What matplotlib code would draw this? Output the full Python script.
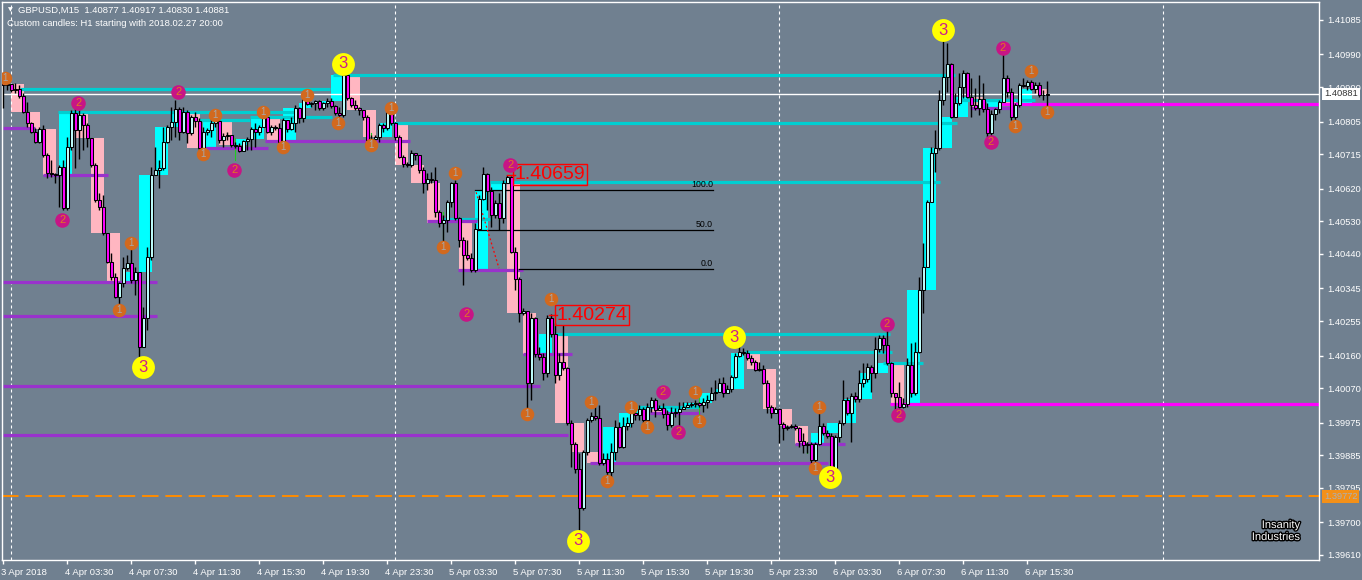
import matplotlib
matplotlib.use('Agg')
import matplotlib.pyplot as plt
import matplotlib.patheffects as pe
import matplotlib.transforms as mtransforms
from matplotlib.patches import Rectangle
import numpy as np

plt.rcParams['font.family'] = ['Liberation Sans', 'DejaVu Sans']

# ---------------- data (GBPUSD M15) ----------------
open0 = 1.40914
close = [1.40906, 1.40909, 1.40892, 1.40895, 1.40875, 1.40831, 1.40801, 1.40776, 1.40749, 1.40784,
         1.40713, 1.40663, 1.40660, 1.40658, 1.40680, 1.40567, 1.40735, 1.40829, 1.40782, 1.40823,
         1.40796, 1.40760, 1.40685, 1.40589, 1.40569, 1.40498, 1.40418, 1.40376, 1.40321, 1.40360,
         1.40401, 1.40415, 1.40368, 1.40390, 1.40183, 1.40263, 1.40432, 1.40658, 1.40671, 1.40677,
         1.40749, 1.40790, 1.40804, 1.40840, 1.40776, 1.40831, 1.40774, 1.40818, 1.40807, 1.40732,
         1.40776, 1.40782, 1.40801, 1.40807, 1.40754, 1.40765, 1.40768, 1.40741, 1.40738, 1.40724,
         1.40751, 1.40757, 1.40784, 1.40776, 1.40790, 1.40818, 1.40776, 1.40790, 1.40787, 1.40749,
         1.40809, 1.40784, 1.40801, 1.40842, 1.40815, 1.40867, 1.40853, 1.40856, 1.40862, 1.40842,
         1.40856, 1.40862, 1.40848, 1.40829, 1.40823, 1.40933, 1.40870, 1.40851, 1.40842, 1.40837,
         1.40818, 1.40754, 1.40757, 1.40762, 1.40796, 1.40787, 1.40831, 1.40801, 1.40762, 1.40707,
         1.40688, 1.40685, 1.40718, 1.40713, 1.40671, 1.40636, 1.40647, 1.40644, 1.40556, 1.40525,
         1.40534, 1.40583, 1.40636, 1.40539, 1.40478, 1.40437, 1.40429, 1.40396, 1.40509, 1.40591,
         1.40660, 1.40614, 1.40547, 1.40580, 1.40539, 1.40636, 1.40652, 1.40445, 1.40371, 1.40277,
         1.40283, 1.40084, 1.40263, 1.40164, 1.40156, 1.40112, 1.40263, 1.40219, 1.40106, 1.40142,
         1.40125, 1.39974, 1.39916, 1.39847, 1.39740, 1.39894, 1.39982, 1.39993, 1.39988, 1.39864,
         1.39875, 1.39839, 1.39894, 1.39963, 1.39908, 1.39966, 1.39974, 1.40002, 1.39996, 1.40012,
         1.39982, 1.40018, 1.40037, 1.40010, 1.40015, 1.39999, 1.39968, 1.40002, 1.40004, 1.40012,
         1.40018, 1.40024, 1.40026, 1.40029, 1.40024, 1.40032, 1.40037, 1.40057, 1.40059, 1.40084,
         1.40057, 1.40068, 1.40100, 1.40158, 1.40170, 1.40167, 1.40153, 1.40142, 1.40120, 1.40123,
         1.40084, 1.40018, 1.40002, 1.40012, 1.39971, 1.39960, 1.39963, 1.39966, 1.39960, 1.39924,
         1.39913, 1.39916, 1.39872, 1.39916, 1.39966, 1.39946, 1.39938, 1.39839, 1.39935, 1.39974,
         1.40037, 1.40002, 1.40048, 1.40040, 1.40084, 1.40095, 1.40128, 1.40112, 1.40178, 1.40208,
         1.40189, 1.40139, 1.40057, 1.40046, 1.40018, 1.40026, 1.40134, 1.40057, 1.40170, 1.40341,
         1.40404, 1.40583, 1.40718, 1.40732, 1.40864, 1.40928, 1.40964, 1.40818, 1.40856, 1.40900,
         1.40939, 1.40873, 1.40851, 1.40842, 1.40867, 1.40840, 1.40774, 1.40826, 1.40840, 1.40859,
         1.40925, 1.40887, 1.40818, 1.40851, 1.40906, 1.40903, 1.40914, 1.40895, 1.40906, 1.40878,
         1.40877, 1.40881]
high = [1.40925, 1.40914, 1.40909, 1.40911, 1.40906, 1.40884, 1.40859, 1.40804, 1.40787, 1.40790,
        1.40796, 1.40718, 1.40699, 1.40663, 1.40685, 1.40699, 1.40762, 1.40837, 1.40845, 1.40837,
        1.40829, 1.40801, 1.40760, 1.40691, 1.40608, 1.40603, 1.40498, 1.40443, 1.40387, 1.40363,
        1.40432, 1.40437, 1.40459, 1.40404, 1.40390, 1.40294, 1.40459, 1.40680, 1.40735, 1.40699,
        1.40790, 1.40796, 1.40845, 1.40864, 1.40845, 1.40845, 1.40837, 1.40823, 1.40831, 1.40815,
        1.40790, 1.40787, 1.40815, 1.40818, 1.40809, 1.40774, 1.40776, 1.40768, 1.40749, 1.40746,
        1.40754, 1.40762, 1.40790, 1.40801, 1.40796, 1.40823, 1.40815, 1.40796, 1.40796, 1.40801,
        1.40815, 1.40804, 1.40818, 1.40851, 1.40845, 1.40878, 1.40873, 1.40859, 1.40864, 1.40864,
        1.40859, 1.40870, 1.40870, 1.40851, 1.40845, 1.40961, 1.40942, 1.40873, 1.40864, 1.40845,
        1.40837, 1.40823, 1.40768, 1.40768, 1.40801, 1.40801, 1.40845, 1.40845, 1.40804, 1.40768,
        1.40713, 1.40694, 1.40727, 1.40718, 1.40707, 1.40680, 1.40663, 1.40666, 1.40680, 1.40561,
        1.40547, 1.40589, 1.40638, 1.40644, 1.40542, 1.40487, 1.40478, 1.40443, 1.40525, 1.40603,
        1.40680, 1.40663, 1.40625, 1.40589, 1.40608, 1.40644, 1.40659, 1.40655, 1.40459, 1.40376,
        1.40291, 1.40280, 1.40277, 1.40266, 1.40183, 1.40167, 1.40272, 1.40274, 1.40249, 1.40167,
        1.40244, 1.40128, 1.39982, 1.39921, 1.39891, 1.39900, 1.39988, 1.40004, 1.40018, 1.40024,
        1.39891, 1.39891, 1.39919, 1.39982, 1.39977, 1.39991, 1.39991, 1.40015, 1.40010, 1.40024,
        1.40018, 1.40029, 1.40046, 1.40043, 1.40024, 1.40029, 1.40010, 1.40018, 1.40015, 1.40032,
        1.40032, 1.40032, 1.40032, 1.40037, 1.40032, 1.40043, 1.40051, 1.40073, 1.40092, 1.40098,
        1.40100, 1.40079, 1.40106, 1.40167, 1.40194, 1.40181, 1.40175, 1.40161, 1.40148, 1.40142,
        1.40134, 1.40092, 1.40024, 1.40018, 1.40015, 1.39977, 1.39968, 1.39971, 1.39971, 1.39963,
        1.39946, 1.39921, 1.39921, 1.39921, 1.40015, 1.39974, 1.39955, 1.39946, 1.39941, 1.39982,
        1.40092, 1.40046, 1.40057, 1.40059, 1.40120, 1.40139, 1.40139, 1.40134, 1.40211, 1.40216,
        1.40216, 1.40249, 1.40142, 1.40057, 1.40087, 1.40043, 1.40153, 1.40194, 1.40197, 1.40376,
        1.40470, 1.40589, 1.40735, 1.40782, 1.40892, 1.41063, 1.41022, 1.40966, 1.40884, 1.40939,
        1.40947, 1.40942, 1.40925, 1.40898, 1.40933, 1.40911, 1.40856, 1.40837, 1.40842, 1.40864,
        1.41022, 1.40933, 1.40898, 1.40856, 1.40911, 1.40925, 1.40920, 1.40920, 1.40914, 1.40914,
        1.40892, 1.40917]
low = [1.40842, 1.40892, 1.40887, 1.40884, 1.40870, 1.40829, 1.40790, 1.40774, 1.40746, 1.40746,
       1.40707, 1.40649, 1.40652, 1.40636, 1.40569, 1.40561, 1.40561, 1.40727, 1.40677, 1.40702,
       1.40727, 1.40735, 1.40680, 1.40583, 1.40561, 1.40492, 1.40415, 1.40368, 1.40318, 1.40280,
       1.40349, 1.40396, 1.40360, 1.40327, 1.40139, 1.40183, 1.40230, 1.40423, 1.40658, 1.40622,
       1.40671, 1.40746, 1.40754, 1.40762, 1.40754, 1.40774, 1.40746, 1.40768, 1.40790, 1.40718,
       1.40718, 1.40768, 1.40762, 1.40790, 1.40746, 1.40735, 1.40754, 1.40735, 1.40732, 1.40721,
       1.40732, 1.40727, 1.40727, 1.40735, 1.40768, 1.40790, 1.40774, 1.40768, 1.40782, 1.40746,
       1.40735, 1.40776, 1.40782, 1.40776, 1.40801, 1.40804, 1.40851, 1.40845, 1.40837, 1.40837,
       1.40837, 1.40845, 1.40842, 1.40823, 1.40804, 1.40818, 1.40864, 1.40845, 1.40837, 1.40823,
       1.40809, 1.40746, 1.40741, 1.40754, 1.40749, 1.40776, 1.40782, 1.40796, 1.40754, 1.40705,
       1.40680, 1.40680, 1.40680, 1.40699, 1.40663, 1.40608, 1.40616, 1.40636, 1.40542, 1.40514,
       1.40465, 1.40501, 1.40569, 1.40534, 1.40459, 1.40354, 1.40423, 1.40390, 1.40390, 1.40506,
       1.40589, 1.40561, 1.40514, 1.40539, 1.40506, 1.40525, 1.40636, 1.40443, 1.40341, 1.40252,
       1.40272, 1.40002, 1.40037, 1.40156, 1.40148, 1.40092, 1.40100, 1.40211, 1.40084, 1.40092,
       1.40120, 1.39968, 1.39852, 1.39836, 1.39638, 1.39734, 1.39886, 1.39977, 1.39982, 1.39858,
       1.39858, 1.39825, 1.39825, 1.39872, 1.39905, 1.39905, 1.39955, 1.39963, 1.39982, 1.39982,
       1.39974, 1.39982, 1.40004, 1.39991, 1.40010, 1.39988, 1.39955, 1.39963, 1.39991, 1.39941,
       1.40012, 1.40018, 1.40018, 1.40018, 1.40018, 1.40004, 1.40015, 1.40037, 1.40037, 1.40059,
       1.40046, 1.40057, 1.40059, 1.40098, 1.40156, 1.40161, 1.40148, 1.40134, 1.40117, 1.40117,
       1.40081, 1.40002, 1.39988, 1.40002, 1.39919, 1.39927, 1.39955, 1.39960, 1.39955, 1.39908,
       1.39891, 1.39891, 1.39864, 1.39850, 1.39913, 1.39941, 1.39933, 1.39830, 1.39825, 1.39921,
       1.39968, 1.39996, 1.39921, 1.40032, 1.40032, 1.40073, 1.40087, 1.40059, 1.40098, 1.40170,
       1.40167, 1.40134, 1.40046, 1.40002, 1.39996, 1.40015, 1.40018, 1.40046, 1.40051, 1.40167,
       1.40277, 1.40404, 1.40583, 1.40666, 1.40727, 1.40851, 1.40887, 1.40815, 1.40818, 1.40851,
       1.40870, 1.40870, 1.40818, 1.40837, 1.40823, 1.40831, 1.40762, 1.40746, 1.40809, 1.40829,
       1.40859, 1.40873, 1.40809, 1.40790, 1.40845, 1.40900, 1.40892, 1.40892, 1.40884, 1.40873,
       1.40864, 1.40830]

xtick_bars = [0, 16, 32, 48, 64, 80, 96, 112, 128, 144, 160, 176, 192, 208, 224, 240, 256]
xtick_labels = ['3 Apr 2018', '4 Apr 03:30', '4 Apr 07:30', '4 Apr 11:30', '4 Apr 15:30',
                '4 Apr 19:30', '4 Apr 23:30', '5 Apr 03:30', '5 Apr 07:30', '5 Apr 11:30',
                '5 Apr 15:30', '5 Apr 19:30', '5 Apr 23:30', '6 Apr 03:30', '6 Apr 07:30',
                '6 Apr 11:30', '6 Apr 15:30']
day_sep_bars = [2, 98, 194, 290]
ytick_prices = [1.41085, 1.40990, 1.40900, 1.40805, 1.40715, 1.40620, 1.40530, 1.40440, 1.40345,
                1.40255, 1.40160, 1.40070, 1.39975, 1.39885, 1.39795, 1.39700, 1.39610]

bid_price = 1.40881
alert_price = 1.39772

# zigzag-count markers: bar index, price
m1_bar = [0.4, 31.9, 28.9, 49.9, 52.9, 64.9, 69.9, 75.9, 83.7, 91.9, 96.9, 112.9, 109.9, 136.9,
          130.9, 146.9, 150.9, 156.9, 160.9, 172.9, 173.9, 203.9, 202.9, 256.9, 252.9, 260.9]
m1_price = [1.40925, 1.40470, 1.40286, 1.40716, 1.40823, 1.40831, 1.40735, 1.40878, 1.40801,
            1.40740, 1.40842, 1.40663, 1.40459, 1.40316, 1.39999, 1.40032, 1.39814, 1.40018,
            1.39963, 1.40059, 1.39979, 1.40018, 1.39850, 1.40944, 1.40793, 1.40831]
m2_bar = [14.7, 18.7, 43.7, 57.7, 115.7, 126.7, 164.9, 168.7, 220.9, 223.7, 246.9, 249.9]
m2_price = [1.40534, 1.40856, 1.40887, 1.40671, 1.40275, 1.40685, 1.40059, 1.39949, 1.40247,
            1.39996, 1.40749, 1.41008]
m3_bar = [34.9, 84.9, 143.7, 182.7, 206.7, 234.9]
m3_price = [1.40128, 1.40964, 1.39649, 1.40211, 1.39825, 1.41057]

# horizontal level segments: start bar, end bar, price
cyan_start = [4.2, 13.7, 82.4, 95.4, 121.7, 138.0, 185.4, 220.0, 238.5, 49.0, 61.7, 110.0, 157.4]
cyan_end = [81.7, 72.9, 237.9, 238.4, 234.2, 221.7, 222.2, 230.0, 258.0, 61.7, 82.2, 121.7, 174.0]
cyan_price = [1.40895, 1.40831, 1.40933, 1.40801, 1.40638, 1.40219, 1.40170, 1.40139, 1.40864,
              1.40809, 1.40818, 1.40536, 1.40018]
purple_start = [0, 10, 0, 0, 0, 0, 146.7, 49.2, 65.4, 106, 113.7, 130, 161.7, 197.9, 241.7]
purple_end = [8, 26.2, 38.4, 38.4, 134.2, 141.2, 206.2, 66.2, 101.7, 118.4, 130, 142.2, 174.2,
              210.4, 253.7]
purple_price = [1.40787, 1.40658, 1.40363, 1.40269, 1.40076, 1.39941, 1.39864, 1.40732, 1.40751,
                1.40531, 1.40396, 1.40164, 1.40002, 1.39916, 1.40842]
magenta_start = [249.2, 221.7]
magenta_price = [1.40853, 1.40026]

# fibonacci
fib_prices = [1.40616, 1.40507, 1.40398]
fib_names = ['100.0', '50.0', '0.0']
fib_start = [117.9, 117.9, 128.9]
fib_end = 177.4
fib_trend_bar = [118.2, 123.9]
fib_trend_price = [1.40610, 1.40401]

# swing labels
swing_text = ['1.40659', '1.40274']
swing_bar = [127.8, 138.3]
swing_price = [1.40659, 1.40271]

# small green indicator ticks: bar, low, high
green_bar = [57.9, 109.9, 91.9, 173.9, 200.9]
green_lo = [1.40699, 1.40459, 1.40740, 1.39976, 1.39891]
green_hi = [1.40760, 1.40556, 1.40773, 1.40059, 1.39921]

# ---------------- drawing ----------------
BG = '#708090'
W, Hpx = 1362, 580
fig = plt.figure(figsize=(W / 100, Hpx / 100), dpi=100, facecolor=BG)
ax = fig.add_axes([2 / W, 20 / Hpx, 1317 / W, 558 / Hpx])
ax.set_facecolor(BG)
XMAX = 328.9
ax.set_xlim(-0.325, XMAX)
ax.set_ylim(1.395962, 1.411346)

C = np.array(close)
O = np.array([open0] + close[:-1])
Hh = np.maximum(np.array(high), np.maximum(O, C))
Ll = np.minimum(np.array(low), np.minimum(O, C))
n = len(C)
x = np.arange(n)

# custom H1 candles (4 x M15)
starts = [0] + list(range(2, n, 4))
for s in starts:
    e = 1 if s == 0 else min(s + 3, n - 1)
    o, c = O[s], C[e]
    col = '#00FFFF' if c >= o else '#FFB6C1'
    ax.add_patch(Rectangle((s - 0.1, min(o, c)), (e - s) + 0.2, max(abs(c - o), 0.00002),
                           facecolor=col, edgecolor='none', zorder=1))

# level lines
for s, e, p in zip(cyan_start, cyan_end, cyan_price):
    ax.plot([s, e], [p, p], color='#00CED1', lw=2.3, solid_capstyle='butt', zorder=2)
for s, e, p in zip(purple_start, purple_end, purple_price):
    ax.plot([s, e], [p, p], color='#9932CC', lw=2.3, solid_capstyle='butt', zorder=2)
for s, p in zip(magenta_start, magenta_price):
    ax.plot([s, XMAX], [p, p], color='#FF00FF', lw=2.3, solid_capstyle='butt', zorder=2)

# day separators
for b in day_sep_bars:
    ax.axvline(b, color='white', lw=0.8, ls=(0, (2.7, 2.7)), zorder=1.5)

# bid and alert lines
ax.axhline(bid_price, color='white', lw=1, zorder=2.5)
ax.axhline(alert_price, color='#FF8C00', lw=1.4, ls=(0, (8.5, 3.5)), zorder=2.5)

# fibonacci
for p, nm, s in zip(fib_prices, fib_names, fib_start):
    ax.plot([s, fib_end], [p, p], color='black', lw=0.9, zorder=2.6)
    ax.text(fib_end, p + 0.00002, nm, ha='right', va='bottom', fontsize=6.3, color='black', zorder=2.6)
ax.plot(fib_trend_bar, fib_trend_price, color='red', lw=0.9, ls=(0, (1.5, 2)), zorder=2.6)

# green indicator ticks
for b, lo, hi in zip(green_bar, green_lo, green_hi):
    ax.plot([b, b], [lo, hi], color='#22CC22', lw=0.8, zorder=3)

# M15 candles
ax.vlines(x, Ll, Hh, color='black', lw=1.0, zorder=4)
bottom = np.minimum(O, C)
height = np.maximum(np.abs(C - O), 0.000015)
up = C >= O
ax.bar(x[up], height[up], bottom=bottom[up], width=0.62, color='#BFFFFF',
       edgecolor='black', linewidth=0.75, zorder=5)
ax.bar(x[~up], height[~up], bottom=bottom[~up], width=0.62, color='#FF00FF',
       edgecolor='black', linewidth=0.75, zorder=5)

# swing labels
for t, b, p in zip(swing_text, swing_bar, swing_price):
    ax.text(b, p, t, ha='left', va='center', fontsize=14, color='#FF0000', zorder=8,
            bbox=dict(boxstyle='square,pad=0.08', fc='none', ec='#FF0000', lw=1))
    ax.plot([b - 2.0, b], [p, p], color='#FF0000', lw=1, zorder=8)

# count markers
ax.scatter(m1_bar, m1_price, s=95, color='#D2691E', zorder=9, linewidths=0)
for b, p in zip(m1_bar, m1_price):
    ax.text(b, p, '1', ha='center', va='center', fontsize=7, color='#A8A8A8', zorder=10)
ax.scatter(m2_bar, m2_price, s=110, color='#C71585', zorder=9, linewidths=0)
for b, p in zip(m2_bar, m2_price):
    ax.text(b, p, '2', ha='center', va='center', fontsize=8, color='#E07820', zorder=10)
ax.scatter(m3_bar, m3_price, s=270, color='#FFFF00', zorder=9, linewidths=0)
for b, p in zip(m3_bar, m3_price):
    ax.text(b, p, '3', ha='center', va='center', fontsize=12, color='#CC1E8C', zorder=10)

# axes styling
for sp in ax.spines.values():
    sp.set_color('white')
    sp.set_linewidth(1)
ax.yaxis.tick_right()
ax.set_yticks(ytick_prices)
ax.set_yticklabels([f'{v:.5f}' for v in ytick_prices])
ax.tick_params(axis='y', colors='white', length=3, width=1, labelsize=6.7, pad=3)
ax.set_xticks(xtick_bars)
ax.set_xticklabels(xtick_labels, ha='left')
ax.tick_params(axis='x', colors='white', length=3, width=1, labelsize=6.8, pad=2.5)
shift = mtransforms.ScaledTranslation(-2 / 100, 0, fig.dpi_scale_trans)
for lab in ax.get_xticklabels():
    lab.set_transform(lab.get_transform() + shift)

# price boxes on the axis
btr = mtransforms.blended_transform_factory(ax.transAxes, ax.transData)
ax.text(1.0 + 5 / 1317, bid_price, f'{bid_price:.5f}', transform=btr, ha='left', va='center',
        fontsize=6.7, color='#333333', zorder=20, clip_on=False,
        bbox=dict(boxstyle='square,pad=0.2', fc='white', ec='none'))
ax.text(1.0 + 5 / 1317, alert_price, f'{alert_price:.5f}', transform=btr, ha='left', va='center',
        fontsize=6.7, color='#A9B0B8', zorder=20, clip_on=False,
        bbox=dict(boxstyle='square,pad=0.2', fc='#F39018', ec='none'))

# header texts
fig.text(8 / W, 1 - 10 / Hpx, '\u25BC', fontsize=4.5, color='white', va='center', ha='left',
         family=['DejaVu Sans'])
fig.text(18 / W, 1 - 10 / Hpx, 'GBPUSD,M15  1.40877 1.40917 1.40830 1.40881', fontsize=6.8,
         color='white', va='center', ha='left')
fig.text(7 / W, 1 - 24 / Hpx, 'Custom candles: H1 starting with 2018.02.27 20:00', fontsize=6.8,
         color='white', va='center', ha='left')

# logo
st = [pe.withStroke(linewidth=2, foreground='black')]
fig.text(1281 / W, 1 - 525 / Hpx, 'Insanity', fontsize=8, color='white', ha='center',
         va='center', path_effects=st)
fig.text(1276 / W, 1 - 537 / Hpx, 'Industries', fontsize=8, color='white', ha='center',
         va='center', path_effects=st)

fig.savefig('out.png', dpi=100, facecolor=BG)
